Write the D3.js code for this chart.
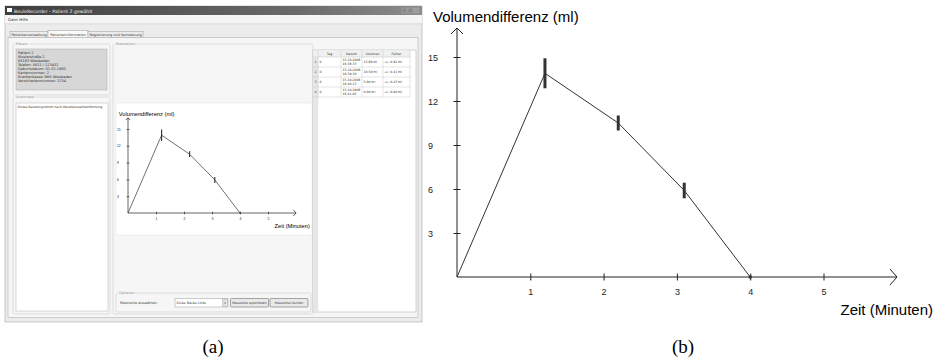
<!DOCTYPE html>
<html><head><meta charset="utf-8">
<script src="https://cdn.jsdelivr.net/npm/d3@7"></script>
<style>body{margin:0;background:#fff}svg{display:block}</style>
</head><body>
<script>
// ---- data ----
const measTimes   = [1.2, 2.2, 3.1, 4.0];          // Zeit (Minuten)
const measVolumes = [13.89, 10.50, 5.90, 0.00];    // Volumendifferenz (ml)
const measErrors  = [0.92, 0.41, 0.43, 0.00];      // Fehler (ml)
const xTicks = [1, 2, 3, 4, 5];
const yTicks = [3, 6, 9, 12, 15];
const tagLabels = ["0", "0", "0", "0"];
const dateLabels = ["15.10.2008", "15.10.2008", "15.10.2008", "15.10.2008"];
const timeLabels = ["16:38:33", "16:39:30", "16:40:23", "16:41:05"];
const tableHeaders = ["Tag", "Datum", "Volumen", "Fehler"];
const patientLines = ["Patient 2", "Musterstraße 2", "65183 Wiesbaden", "Telefon: 0611 / 123432",
  "Geburtsdatum: 01.01.1980", "Kartennummer: 2", "Krankenkasse: BKK Wiesbaden", "Versichertennummer: 1234"];
const tabLabels = ["Patientenverwaltung", "Patienteninformation", "Registrierung und Vermessung"];

const svg = d3.select("body").append("svg").attr("width", 935).attr("height", 361);
const SANS = "'Liberation Sans', Arial, sans-serif";

// ---- chart drawing ----
function drawChart(g, k, ox, oy) {
  g.attr("font-family", SANS);
  const x = d3.scaleLinear().domain([0, 5]).range([ox, ox + 366.5 * k]);
  const y = d3.scaleLinear().domain([0, 15]).range([oy, oy - 220 * k]);
  const sw = Math.max(k, 0.7);
  const xEnd = ox + 440 * k, yEnd = oy - 249 * k;
  const ax = g.append("g").attr("stroke", "#222").attr("stroke-width", sw).attr("fill", "none");
  ax.append("line").attr("x1", ox).attr("y1", oy).attr("x2", xEnd).attr("y2", oy);
  ax.append("polyline").attr("points", `${xEnd-7*k},${oy-8*k} ${xEnd},${oy} ${xEnd-7*k},${oy+8*k}`);
  ax.append("line").attr("x1", ox).attr("y1", oy).attr("x2", ox).attr("y2", yEnd);
  ax.append("polyline").attr("points", `${ox-6*k},${yEnd+6*k} ${ox},${yEnd} ${ox+6*k},${yEnd+6*k}`);

  const fmt = d3.format("d");
  const xa = g.append("g").attr("transform", `translate(0,${oy})`)
    .call(d3.axisBottom(x).tickValues(xTicks).tickFormat(fmt).tickSizeOuter(0));
  xa.attr("font-family", SANS);
  xa.select(".domain").remove();
  xa.selectAll(".tick line").attr("y1", -3.5*k).attr("y2", 3.5*k).attr("stroke", "#222").attr("stroke-width", sw);
  xa.selectAll(".tick text").attr("y", 15*k).attr("dy", "0.35em").attr("font-size", 9*k).attr("fill", "#222");

  const ya = g.append("g").attr("transform", `translate(${ox},0)`)
    .call(d3.axisLeft(y).tickValues(yTicks).tickFormat(fmt).tickSizeOuter(0));
  ya.attr("font-family", SANS);
  ya.select(".domain").remove();
  ya.selectAll(".tick line").attr("x1", -3.5*k).attr("x2", 3.5*k).attr("stroke", "#222").attr("stroke-width", sw);
  ya.selectAll(".tick text").attr("x", -29*k).attr("dy", "0.35em").attr("text-anchor", "start")
    .attr("font-size", 9*k).attr("fill", "#222");

  g.append("text").attr("x", ox - 24*k).attr("y", oy - 255*k).attr("font-size", 15*k)
    .attr("fill", "#000").text("Volumendifferenz (ml)");
  g.append("text").attr("x", ox + 476*k).attr("y", oy + 38*k).attr("font-size", 15*k)
    .attr("text-anchor", "end").attr("fill", "#000").text("Zeit (Minuten)");

  const pts = [{t: 0, v: 0}].concat(measTimes.map((t, i) => ({t, v: measVolumes[i], e: measErrors[i]})));
  g.append("path").datum(pts)
    .attr("d", d3.line().x(d => x(d.t)).y(d => y(d.v)))
    .attr("fill", "none").attr("stroke", "#333").attr("stroke-width", sw);
  g.selectAll(".err").data(pts.slice(1)).join("line")
    .attr("x1", d => x(d.t)).attr("x2", d => x(d.t))
    .attr("y1", d => y(d.v - d.e)).attr("y2", d => y(d.v + d.e))
    .attr("stroke", "#333").attr("stroke-width", Math.max(3*k, 1.1)).attr("stroke-linecap", "square");
}

// ---- (a) screenshot ----
const a = svg.append("g").attr("font-family", "'DejaVu Sans', Verdana, sans-serif");
const defs = svg.append("defs");
const tg = defs.append("linearGradient").attr("id", "tb");
tg.append("stop").attr("offset", "0").attr("stop-color", "#3e3e3e");
tg.append("stop").attr("offset", "0.7").attr("stop-color", "#6a6a6a");
tg.append("stop").attr("offset", "1").attr("stop-color", "#8c8c8c");

a.append("rect").attr("x", 5).attr("y", 6).attr("width", 417).attr("height", 316).attr("fill", "#ececec").attr("stroke", "#a8a8a8").attr("stroke-width", 0.6);
a.append("rect").attr("x", 5).attr("y", 6).attr("width", 417).attr("height", 9).attr("fill", "url(#tb)");
a.append("rect").attr("x", 7).attr("y", 8).attr("width", 5).attr("height", 4).attr("fill", "#fff");
a.append("text").attr("x", 14).attr("y", 12.6).attr("font-size", 4.6).attr("fill", "#eee").text("BeuleRecorder - Patient 2 gewählt");
[402, 408, 414].forEach((bx, i) => {
  a.append("rect").attr("x", bx).attr("y", 8).attr("width", 5).attr("height", 5).attr("fill", i === 2 ? "#9a9a9a" : "#888").attr("stroke", "#bbb").attr("stroke-width", 0.4);
});
a.append("rect").attr("x", 5).attr("y", 15).attr("width", 417).attr("height", 8).attr("fill", "#f5f5f5");
a.append("text").attr("x", 8).attr("y", 20.5).attr("font-size", 3.8).attr("fill", "#333").text("Datei    Hilfe");
a.append("line").attr("x1", 5).attr("x2", 422).attr("y1", 24).attr("y2", 24).attr("stroke", "#d4d4d4").attr("stroke-width", 0.6);

// tabs
const tabX = [10, 48, 88], tabW = [38, 40, 55];
tabLabels.forEach((t, i) => {
  const sel = i === 1;
  a.append("rect").attr("x", tabX[i]).attr("y", sel ? 30.5 : 31.5).attr("width", tabW[i]).attr("height", sel ? 7 : 5.8)
    .attr("fill", sel ? "#fafafa" : "#ececec").attr("stroke", "#9a9a9a").attr("stroke-width", 0.5);
  a.append("text").attr("x", tabX[i] + tabW[i] / 2).attr("y", 36).attr("text-anchor", "middle")
    .attr("font-size", 3.4).attr("fill", "#333").text(t);
});
a.append("rect").attr("x", 8).attr("y", 37.5).attr("width", 410).attr("height", 280).attr("fill", "#f6f6f6").attr("stroke", "#a8a8a8").attr("stroke-width", 0.5);

function group(x0, y0, w, h, label) {
  a.append("rect").attr("x", x0).attr("y", y0).attr("width", w).attr("height", h).attr("rx", 1.5)
    .attr("fill", "none").attr("stroke", "#cfcfcf").attr("stroke-width", 0.6);
  const t = a.append("text").attr("x", x0 + 3).attr("y", y0 + 1.3).attr("font-size", 3.4).attr("fill", "#888").text(label);
  const bb = t.node().getBBox();
  a.append("rect").attr("x", bb.x - 0.5).attr("y", bb.y).attr("width", bb.width + 1).attr("height", bb.height).attr("fill", "#f6f6f6");
  t.raise();
}
group(13, 44, 97, 51, "Patient");
a.append("rect").attr("x", 16).attr("y", 49).attr("width", 91).attr("height", 41).attr("fill", "#d7d7d7").attr("stroke", "#aaa").attr("stroke-width", 0.5);
patientLines.forEach((l, i) => a.append("text").attr("x", 18).attr("y", 54 + i * 4.05).attr("font-size", 3.5).attr("fill", "#333").text(l));

group(13, 97, 97, 217, "Anamnese");
a.append("rect").attr("x", 16).attr("y", 103).attr("width", 92).attr("height", 208).attr("fill", "#fff").attr("stroke", "#b5b5b5").attr("stroke-width", 0.5);
a.append("text").attr("x", 17.5).attr("y", 108).attr("font-size", 3.1).attr("fill", "#333").text("Dickes Backensyndrom nach Weisheitszahnentfernung");

group(113, 44, 200, 270, "Messreihen");
a.append("rect").attr("x", 116).attr("y", 103).attr("width", 196).attr("height", 132).attr("fill", "#fff").attr("stroke", "#e2e2e2").attr("stroke-width", 0.5);

group(116, 293, 195, 19, "Optionen");
a.append("text").attr("x", 120).attr("y", 304).attr("font-size", 3.4).attr("fill", "#333").text("Messreihe auswählen:");
a.append("rect").attr("x", 175).attr("y", 298.5).attr("width", 53).attr("height", 8.5).attr("fill", "#fff").attr("stroke", "#9a9a9a").attr("stroke-width", 0.5);
a.append("text").attr("x", 176.5).attr("y", 304).attr("font-size", 3.3).attr("fill", "#333").text("Dicke Backe Links");
a.append("rect").attr("x", 222.5).attr("y", 299).attr("width", 5).attr("height", 7.5).attr("fill", "#e2e2e2").attr("stroke", "#9a9a9a").attr("stroke-width", 0.4);
a.append("text").attr("x", 225).attr("y", 304).attr("text-anchor", "middle").attr("font-size", 3.4).attr("fill", "#444").text("v");
[[230.5, "Messreihe exportieren"], [270, "Messreihe löschen"]].forEach(([bx, t]) => {
  a.append("rect").attr("x", bx).attr("y", 298.5).attr("width", 38).attr("height", 8.5).attr("rx", 0.8).attr("fill", "#e9e9e9").attr("stroke", "#6f6f6f").attr("stroke-width", 0.6);
  a.append("text").attr("x", bx + 19).attr("y", 304).attr("text-anchor", "middle").attr("font-size", 3.1).attr("fill", "#333").text(t);
});

// table
a.append("rect").attr("x", 313).attr("y", 50).attr("width", 103).attr("height", 262).attr("fill", "#fff").attr("stroke", "#a8a8a8").attr("stroke-width", 0.5);
a.append("rect").attr("x", 313.3).attr("y", 50.3).attr("width", 5).attr("height", 261.4).attr("fill", "#e6e6e6");
a.append("rect").attr("x", 313.3).attr("y", 50.3).attr("width", 97).attr("height", 7).attr("fill", "#f0f0f0");
const colX = [318, 341, 362, 383, 410];
const rowY = [57, 67, 77, 87, 97];
colX.forEach(cx => a.append("line").attr("x1", cx).attr("x2", cx).attr("y1", 50).attr("y2", 97).attr("stroke", "#c8c8c8").attr("stroke-width", 0.5));
rowY.forEach(ry => a.append("line").attr("x1", 313).attr("x2", 410).attr("y1", ry).attr("y2", ry).attr("stroke", "#c8c8c8").attr("stroke-width", 0.5));
tableHeaders.forEach((h, i) => a.append("text").attr("x", (colX[i] + colX[i + 1]) / 2).attr("y", 55).attr("text-anchor", "middle").attr("font-size", 3.2).attr("fill", "#333").text(h));
measVolumes.forEach((v, i) => {
  const ry = rowY[i];
  const cell = (xx, yy, t, anchor) => a.append("text").attr("x", xx).attr("y", yy).attr("text-anchor", anchor || "start").attr("font-size", 3.1).attr("fill", "#333").text(t);
  cell(315.5, ry + 6, String(i + 1), "middle");
  cell(319.5, ry + 6, tagLabels[i]);
  cell(342.5, ry + 4, dateLabels[i]);
  cell(342.5, ry + 8, timeLabels[i]);
  cell(363.5, ry + 6, d3.format(".2f")(v) + " ml");
  cell(384.5, ry + 6, "+/- " + d3.format(".2f")(measErrors[i]) + " ml");
});

// mini chart inside screenshot
drawChart(svg.append("g"), 0.382, 128, 213);

// ---- (b) chart ----
drawChart(svg.append("g"), 1, 457, 277);

// captions
svg.append("text").attr("x", 213).attr("y", 353).attr("text-anchor", "middle").attr("font-size", 19)
  .attr("font-family", "'Liberation Serif', 'DejaVu Serif', serif").text("(a)");
svg.append("text").attr("x", 683).attr("y", 353).attr("text-anchor", "middle").attr("font-size", 19)
  .attr("font-family", "'Liberation Serif', 'DejaVu Serif', serif").text("(b)");
</script>
</body></html>
